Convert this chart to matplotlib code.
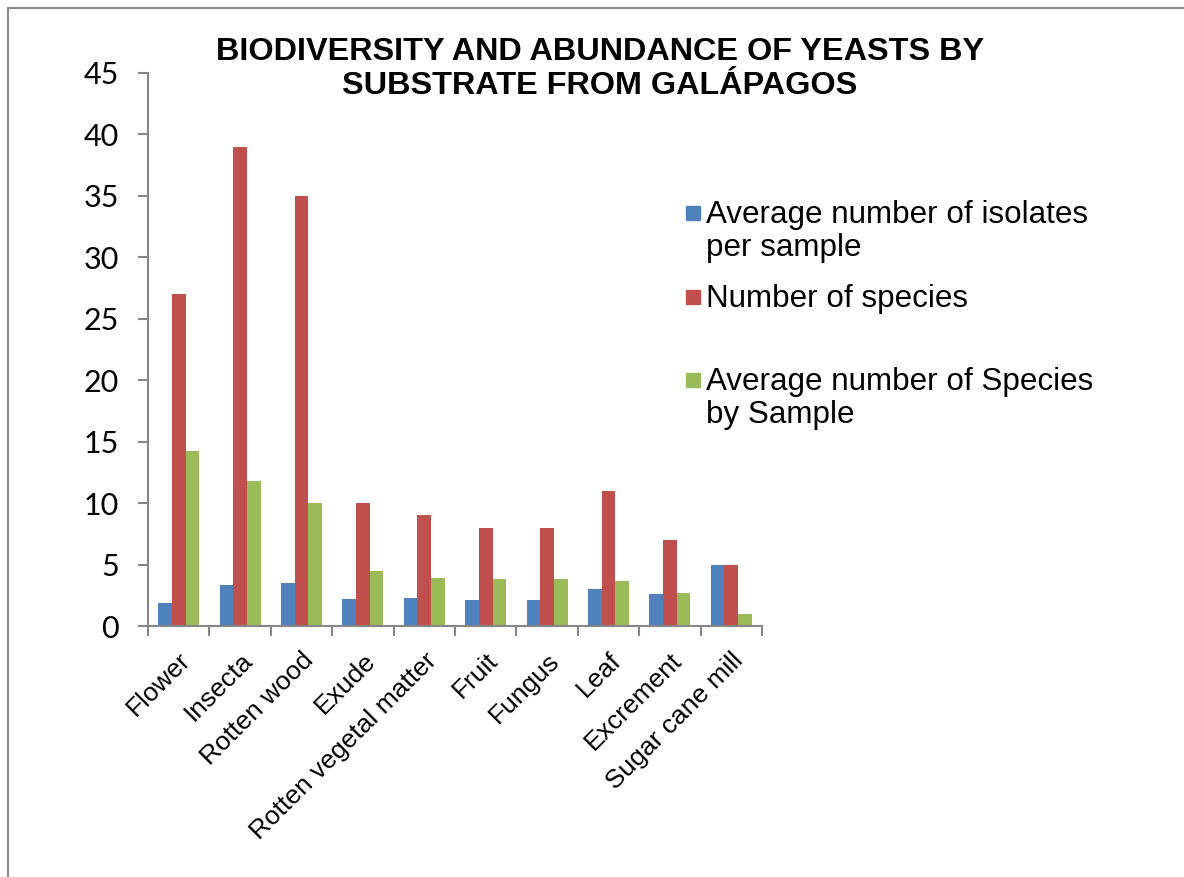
import matplotlib.pyplot as plt
from matplotlib.patches import Rectangle
import numpy as np

categories = ['Flower', 'Insecta', 'Rotten wood', 'Exude', 'Rotten vegetal matter',
              'Fruit', 'Fungus', 'Leaf', 'Excrement', 'Sugar cane mill']
isolates = [1.9, 3.3, 3.5, 2.2, 2.3, 2.1, 2.1, 3.0, 2.6, 5.0]
species = [27, 39, 35, 10, 9, 8, 8, 11, 7, 5]
species_by_sample = [14.2, 11.8, 10.0, 4.5, 3.9, 3.8, 3.8, 3.7, 2.7, 1.0]
yticks = [0, 5, 10, 15, 20, 25, 30, 35, 40, 45]

series = [isolates, species, species_by_sample]
labels = ['Average number of isolates\nper sample', 'Number of species',
          'Average number of Species\nby Sample']
colors = ['#4F81BD', '#C0504D', '#9BBB59']

W, H = 1184, 877
fig = plt.figure(figsize=(W / 100, H / 100), dpi=100)
ax = fig.add_axes([148 / W, 1 - 626 / H, (762 - 148) / W, (626 - 73) / H])

x = np.arange(len(categories))
bw = 1 / 4.5
for i, (vals, col) in enumerate(zip(series, colors)):
    ax.bar(x + (i - 1) * bw, vals, bw, color=col, edgecolor='none')

ax.set_xlim(-0.5, len(categories) - 0.5)
ax.set_ylim(0, 45)
ax.set_yticks(yticks)
ax.set_yticklabels([str(t) for t in yticks], fontfamily='Lato', fontsize=22)
ax.set_xticks(x)
ax.set_xticklabels(categories, rotation=45, ha='right', rotation_mode='anchor',
                   fontfamily='Liberation Sans', fontsize=19)
ax.set_xticks(np.arange(len(categories) + 1) - 0.5, minor=True)
ax.tick_params(axis='x', which='major', length=0, pad=16)
ax.tick_params(axis='x', which='minor', length=7, width=1.5, color='#868686')
ax.tick_params(axis='y', length=7, width=1.5, color='#868686', pad=14)

for s in ['top', 'right']:
    ax.spines[s].set_visible(False)
for s in ['left', 'bottom']:
    ax.spines[s].set_color('#868686')
    ax.spines[s].set_linewidth(1.5)

fig.text(600 / W, 1 - 69 / H,
         'BIODIVERSITY AND ABUNDANCE OF YEASTS BY\nSUBSTRATE FROM GALÁPAGOS',
         ha='center', va='center', fontsize=23.3, fontweight='bold',
         fontfamily='Liberation Sans', linespacing=1.15)

# legend drawn by hand to match Excel spacing
leg_y = [213, 297, 380]
for lab, col, yy in zip(labels, colors, leg_y):
    fig.patches.append(Rectangle((686 / W, 1 - (yy + 7) / H), 14 / W, 14 / H,
                                 transform=fig.transFigure, color=col))
    fig.text(706 / W, 1 - (yy - 13) / H, lab, ha='left', va='top', fontsize=22.6,
             fontfamily='Liberation Sans', linespacing=1.12)

# outer chart border
fig.patches.append(Rectangle((8 / W, -0.05), 1.2, 1 - 8 / H + 0.05,
                             transform=fig.transFigure, fill=False,
                             edgecolor='#8c8c8c', linewidth=1.5))

fig.savefig('out.png', dpi=100)
